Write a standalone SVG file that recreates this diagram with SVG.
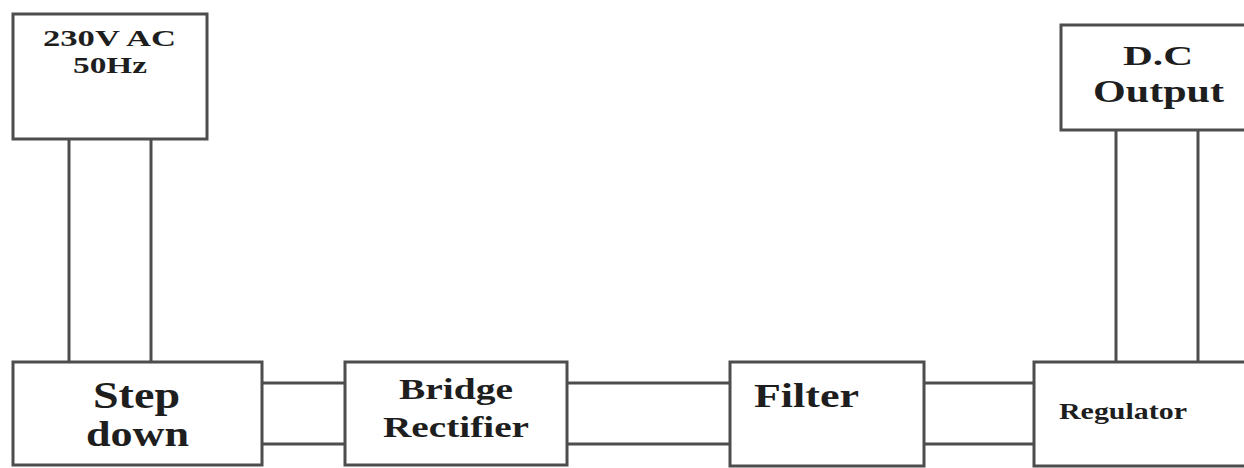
<svg xmlns="http://www.w3.org/2000/svg" width="1244" height="468" viewBox="0 0 1244 468">
<style>
.box{fill:#ffffff;stroke:#4d4d4d;stroke-width:3}
.wire{stroke:#4d4d4d;stroke-width:3;fill:none}
.t{font-family:"Liberation Serif","Times New Roman",serif;font-weight:bold;fill:#1e1e1e}
</style>
<rect x="0" y="0" width="1244" height="468" fill="#ffffff"/>
<g id="connectors">
<line class="wire" x1="69" y1="139" x2="69" y2="362"/>
<line class="wire" x1="151" y1="139" x2="151" y2="362"/>
<line class="wire" x1="262" y1="383" x2="345" y2="383"/>
<line class="wire" x1="262" y1="444" x2="345" y2="444"/>
<line class="wire" x1="567" y1="383" x2="730" y2="383"/>
<line class="wire" x1="567" y1="444" x2="730" y2="444"/>
<line class="wire" x1="924" y1="383" x2="1034" y2="383"/>
<line class="wire" x1="924" y1="444" x2="1034" y2="444"/>
<line class="wire" x1="1116" y1="130" x2="1116" y2="362"/>
<line class="wire" x1="1198" y1="130" x2="1198" y2="362"/>
</g>
<g id="ac-source">
<rect class="box" x="13" y="14" width="194" height="125"/>
<text class="t" x="43" y="46" font-size="24" textLength="133" lengthAdjust="spacingAndGlyphs">230V AC</text>
<text class="t" x="73" y="73" font-size="24" textLength="74" lengthAdjust="spacingAndGlyphs">50Hz</text>
</g>
<g id="dc-output">
<rect class="box" x="1061" y="25" width="200" height="105"/>
<text class="t" x="1123" y="65" font-size="28" textLength="70" lengthAdjust="spacingAndGlyphs">D.C</text>
<text class="t" x="1093" y="102" font-size="31" textLength="131" lengthAdjust="spacingAndGlyphs">Output</text>
</g>
<g id="step-down">
<rect class="box" x="13" y="362" width="249" height="103"/>
<text class="t" x="93" y="408" font-size="37" textLength="87" lengthAdjust="spacingAndGlyphs">Step</text>
<text class="t" x="86" y="446" font-size="36" textLength="103" lengthAdjust="spacingAndGlyphs">down</text>
</g>
<g id="bridge-rectifier">
<rect class="box" x="345" y="362" width="222" height="103"/>
<text class="t" x="399" y="399" font-size="29" textLength="114" lengthAdjust="spacingAndGlyphs">Bridge</text>
<text class="t" x="383" y="437" font-size="29" textLength="146" lengthAdjust="spacingAndGlyphs">Rectifier</text>
</g>
<g id="filter">
<rect class="box" x="730" y="362" width="194" height="104"/>
<text class="t" x="754" y="407" font-size="34" textLength="105" lengthAdjust="spacingAndGlyphs">Filter</text>
</g>
<g id="regulator">
<rect class="box" x="1034" y="362" width="230" height="104"/>
<text class="t" x="1059" y="419" font-size="24" textLength="128" lengthAdjust="spacingAndGlyphs">Regulator</text>
</g>
</svg>
